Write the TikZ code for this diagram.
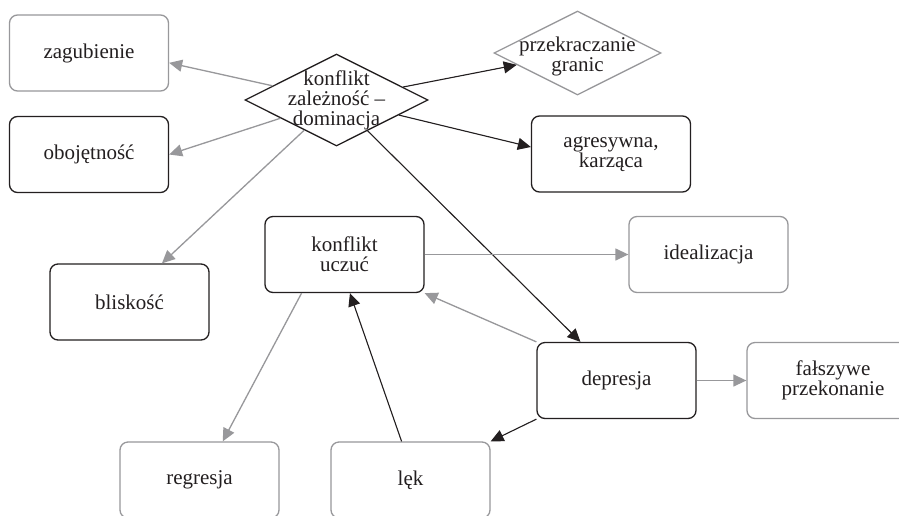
\documentclass[tikz,border=0pt]{standalone}
\usepackage{fontspec}
\setmainfont{Liberation Serif}
\usetikzlibrary{shapes.geometric,arrows.meta}
\definecolor{ink}{RGB}{35,31,32}
\definecolor{soft}{RGB}{152,152,155}
\begin{document}
\begin{tikzpicture}[x=1pt,y=-1pt,
  txt/.style={align=center, text=ink, font=\fontsize{21}{20}\selectfont},
  box/.style={txt, draw, rounded corners=8pt, minimum width=159pt, minimum height=76pt, inner sep=0pt, line width=1.3pt},
  dia/.style={diamond, draw, inner sep=0pt, line width=1.3pt},
  hard/.style={draw=ink},
  pale/.style={draw=soft},
  darr/.style={draw=ink, line width=1.1pt, -{Triangle[length=13pt,width=12pt]}, fill=ink},
  garr/.style={draw=soft, line width=1.3pt, -{Triangle[length=13pt,width=12pt]}, fill=soft}
]
\useasboundingbox[fill=white] (0,0) rectangle (899,515);

% nodes
\node[box, pale] (zag) at (89,53) {zagubienie};
\node[box, hard] (obo) at (89,154.5) {obojętność};
\node[dia, hard, minimum width=183pt, minimum height=92pt,
      label={[txt]center:konflikt\\zależność –\\dominacja}] (d1) at (336.5,100) {};
\node[dia, pale, minimum width=167pt, minimum height=84pt,
      label={[txt, yshift=-3pt]center:przekraczanie\\granic}] (d2) at (577.5,53) {};
\node[box, hard] (agr) at (611,154) {agresywna,\\karząca};
\node[box, hard] (kuc) at (344.5,254.5) {konflikt\\uczuć};
\node[box, pale] (ide) at (708.5,254.5) {idealizacja};
\node[box, hard] (bli) at (129.5,302) {bliskość};
\node[box, hard] (dep) at (616.5,380.5) {depresja};
\node[box, pale, minimum width=172pt] (fal) at (833,380.5) {fałszywe\\przekonanie};
\node[box, pale] (reg) at (199.5,480) {regresja};
\node[box, pale] (lek) at (410.5,480) {lęk};

% connectors
\draw[garr] (d1) -- (zag.-7);
\draw[garr] (d1) -- (obo.east);
\draw[garr] (d1) -- (bli.50);
\draw[darr] (d1) -- (d2);
\draw[darr] (d1) -- (agr.175);
\draw[darr] (d1) -- (dep.133);
\draw[garr] (kuc) -- (ide);
\draw[garr] (dep.north west) -- (kuc.south east);
\draw[garr] (kuc.222) -- (reg.59);
\draw[darr] (lek.103) -- (kuc.278);
\draw[darr] (dep.south west) -- (lek.north east);
\draw[garr] (dep) -- (fal);
\end{tikzpicture}
\end{document}
